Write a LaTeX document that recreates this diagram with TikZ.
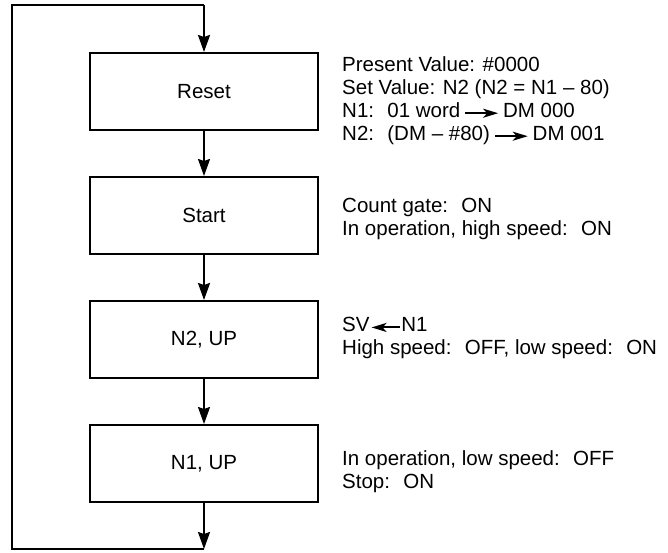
\documentclass[tikz,border=0pt]{standalone}
\usepackage{fontspec}
\setmainfont{Liberation Sans}
\usepackage{tikz}
\usetikzlibrary{arrows.meta}

\newcommand{\rarr}{\hspace{4pt}\tikz[baseline]\draw[line width=2pt,-{Stealth[length=15pt,width=9pt,inset=4pt]}] (0,0.2em) -- (1.6em,0.2em);\hspace{4pt}}
\newcommand{\larr}{\hspace{1pt}\tikz[baseline]\draw[line width=2pt,{Stealth[length=15pt,width=9pt,inset=4pt]}-] (0,0.2em) -- (1.4em,0.2em);}

\tikzset{
    stepbox/.style={draw, line width=2pt, minimum width=228pt, minimum height=77pt, inner sep=0pt},
    flow/.style={line width=2pt, -{Stealth[length=17pt,width=12pt,inset=2pt]}},
    remark/.style={anchor=west, align=left, inner sep=0pt}
}

\begin{document}
\begin{tikzpicture}[x=1pt,y=-1pt,font=\fontsize{20.5}{23}\selectfont]
\useasboundingbox (0,0) rectangle (668,552);

% steps
\node[stepbox] (reset) at (204,91.5) {Reset};
\node[stepbox] (start) at (204,215.5) {Start};
\node[stepbox] (ntwo) at (204,339.5) {N2, UP};
\node[stepbox] (none) at (204,463.5) {N1, UP};

\draw[flow] (reset) -- (start);
\draw[flow] (start) -- (ntwo);
\draw[flow] (ntwo) -- (none);

% return loop
\coordinate (top) at (204,5);
\coordinate (bot) at (204,549);
\draw[flow] (none) -- (bot);
\draw[line width=2pt] (bot) -- (12,549) -- (12,5) -- (top);
\draw[flow] (top) -- (reset);

% remarks
\node[remark] (rreset) at (342,100.5) {Present Value: \#0000\\Set Value: N2 (N2 = N1 -- 80)\\N1:~ 01 word\rarr DM 000\\N2:~ (DM -- \#80)\rarr DM 001};
\node[remark] (rstart) at (342,218.5) {Count gate:~ ON\\In operation, high speed:~ ON};
\node[remark] (rntwo) at (342,338) {SV\larr N1\\High speed:~ OFF, low speed:~ ON};
\node[remark] (rnone) at (342,471.5) {In operation, low speed:~ OFF\\Stop:~ ON};
\end{tikzpicture}
\end{document}
